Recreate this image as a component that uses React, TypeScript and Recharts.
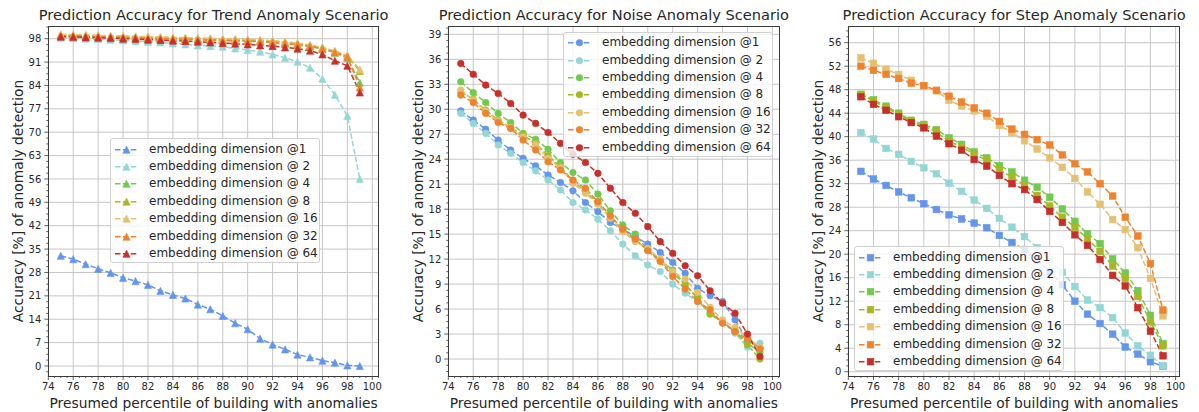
import { LineChart, Line, XAxis, YAxis, CartesianGrid, Legend } from 'recharts'

// x positions (presumed percentile)
const percentiles = [75, 76, 77, 78, 79, 80, 81, 82, 83, 84, 85, 86, 87, 88, 89, 90, 91, 92, 93, 94, 95, 96, 97, 98, 99]

const seriesKeys = ['d1', 'd2', 'd4', 'd8', 'd16', 'd32', 'd64']
const seriesNames = [
  'embedding dimension @1',
  'embedding dimension @ 2',
  'embedding dimension @ 4',
  'embedding dimension @ 8',
  'embedding dimension @ 16',
  'embedding dimension @ 32',
  'embedding dimension @ 64',
]
const seriesColors = ['#6495ed', '#93d6d6', '#71c94f', '#a8b824', '#e6c072', '#f0822e', '#c7302a']

// Trend anomaly scenario
const trend1 = [33.0, 32.0, 30.5, 29.1, 27.9, 26.4, 25.4, 24.3, 22.5, 21.3, 20.2, 18.4, 17.0, 15.0, 12.8, 11.0, 8.2, 6.4, 5.0, 3.4, 2.6, 1.6, 1.0, 0.2, 0.0]
const trend2 = [98.3, 98.2, 98.0, 97.9, 97.7, 97.5, 97.3, 97.1, 96.9, 96.6, 96.3, 96.0, 95.8, 95.6, 95.1, 94.6, 94.1, 93.3, 92.3, 91.1, 89.3, 86.0, 81.2, 74.9, 56.0]
const trend4 = [98.9, 98.8, 98.7, 98.6, 98.5, 98.4, 98.3, 98.2, 98.1, 98.0, 97.9, 97.8, 97.7, 97.6, 97.5, 97.4, 97.2, 96.9, 96.6, 96.1, 95.6, 94.9, 93.8, 92.2, 84.8]
const trend8 = [99.2, 99.1, 99.0, 98.9, 98.8, 98.7, 98.6, 98.5, 98.4, 98.3, 98.2, 98.1, 98.0, 97.9, 97.8, 97.7, 97.5, 97.3, 97.0, 96.6, 96.0, 95.3, 94.2, 92.8, 88.3]
const trend16 = [99.3, 99.2, 99.1, 99.0, 98.9, 98.8, 98.7, 98.6, 98.5, 98.4, 98.3, 98.2, 98.1, 98.0, 97.9, 97.8, 97.6, 97.4, 97.1, 96.7, 96.1, 95.4, 94.3, 93.0, 88.8]
const trend32 = [98.9, 98.8, 98.7, 98.6, 98.5, 98.4, 98.3, 98.1, 98.0, 97.9, 97.8, 97.7, 97.5, 97.4, 97.3, 97.3, 97.1, 96.9, 96.6, 96.2, 95.8, 95.0, 93.9, 92.6, 83.4]
const trend64 = [98.6, 98.5, 98.4, 98.3, 98.2, 98.0, 97.9, 97.7, 97.6, 97.4, 97.3, 97.1, 96.9, 96.7, 96.5, 96.3, 96.0, 95.8, 95.4, 95.0, 94.4, 93.3, 91.4, 89.9, 81.9]

// Noise anomaly scenario
const noise1 = [29.8, 28.7, 27.6, 26.3, 25.1, 24.1, 23.2, 22.1, 21.2, 20.2, 18.8, 17.7, 16.4, 15.6, 14.7, 13.8, 12.8, 11.6, 10.3, 8.5, 7.6, 6.9, 4.7, 2.2, 1.3]
const noise2 = [29.5, 28.3, 27.1, 25.7, 24.7, 23.6, 22.6, 21.5, 20.3, 18.8, 17.9, 16.8, 15.4, 13.8, 12.4, 11.3, 10.5, 9.0, 7.9, 6.9, 5.6, 4.5, 3.1, 1.4, 1.9]
const noise4 = [33.3, 32.0, 30.8, 29.5, 28.4, 27.1, 26.4, 25.2, 23.6, 22.4, 21.5, 19.8, 17.8, 16.1, 15.0, 13.1, 11.9, 10.7, 8.9, 7.4, 5.4, 4.4, 3.4, 1.9, 0.8]
const noise8 = [32.1, 31.2, 29.9, 28.7, 27.8, 26.9, 25.9, 24.4, 23.1, 21.4, 20.1, 18.8, 17.0, 15.4, 14.2, 13.2, 11.8, 10.3, 9.0, 7.2, 5.4, 4.5, 3.3, 1.7, 0.0]
const noise16 = [32.3, 31.1, 29.8, 28.6, 27.8, 26.7, 25.8, 24.1, 23.0, 21.1, 19.9, 18.6, 16.9, 15.3, 14.1, 13.3, 12.0, 10.5, 9.6, 8.0, 6.2, 4.7, 3.8, 2.6, 1.4]
const noise32 = [31.7, 30.8, 29.5, 28.4, 27.7, 26.3, 25.1, 23.7, 22.7, 21.5, 20.5, 18.9, 17.2, 15.6, 14.4, 13.0, 11.7, 9.9, 8.4, 6.9, 5.9, 4.3, 3.3, 2.4, 1.2]
const noise64 = [35.5, 34.2, 32.9, 31.9, 30.7, 29.3, 28.3, 27.2, 25.9, 24.6, 23.6, 22.3, 20.5, 18.8, 17.5, 15.9, 14.1, 12.7, 11.2, 10.0, 8.2, 6.7, 5.5, 3.0, 0.3]

// Step anomaly scenario
const step1 = [34.1, 32.8, 31.7, 30.6, 29.6, 28.6, 27.6, 26.7, 26.0, 25.3, 24.5, 23.2, 22.0, 20.8, 19.0, 17.0, 14.8, 12.0, 9.8, 8.2, 6.4, 4.2, 3.0, 1.7, 0.9]
const step2 = [40.7, 39.6, 38.0, 37.0, 35.8, 34.7, 33.7, 32.1, 30.7, 29.2, 27.8, 26.1, 24.6, 23.0, 21.1, 19.0, 16.9, 14.5, 12.2, 10.9, 9.2, 6.6, 4.4, 2.8, 1.0]
const step4 = [47.2, 46.3, 45.2, 44.0, 42.8, 42.1, 41.2, 39.8, 38.7, 37.4, 36.4, 35.1, 34.0, 32.6, 31.4, 29.7, 27.7, 25.6, 23.5, 21.8, 19.2, 16.8, 13.8, 9.6, 4.8]
const step8 = [47.2, 46.1, 44.9, 43.8, 42.6, 41.8, 40.8, 39.2, 38.3, 37.0, 36.0, 34.4, 33.1, 31.8, 30.0, 28.2, 26.3, 24.6, 22.6, 20.5, 18.0, 15.9, 12.8, 8.5, 4.4]
const step16 = [53.4, 52.5, 51.5, 50.6, 49.6, 48.7, 47.8, 46.2, 45.2, 44.4, 43.5, 41.9, 40.7, 39.3, 37.9, 36.4, 34.8, 32.9, 30.6, 28.5, 25.9, 24.2, 21.1, 15.9, 9.5]
const step32 = [52.0, 51.3, 50.6, 49.9, 49.1, 48.7, 47.9, 46.9, 45.9, 44.9, 44.0, 42.6, 41.3, 40.4, 39.5, 38.6, 36.9, 35.4, 34.0, 32.0, 29.9, 26.3, 23.1, 18.4, 10.5]
const step64 = [46.8, 45.5, 44.5, 43.4, 42.4, 41.5, 40.1, 38.8, 37.7, 36.1, 35.0, 33.4, 32.0, 31.0, 29.3, 27.3, 25.4, 23.3, 21.5, 19.1, 16.4, 14.6, 10.9, 6.9, 2.7]

// tick labels
const xMajorTicks = [74, 76, 78, 80, 82, 84, 86, 88, 90, 92, 94, 96, 98, 100]
const trendYTicks = [0, 7, 14, 21, 28, 35, 42, 49, 56, 63, 70, 77, 84, 91, 98]
const noiseYTicks = [0, 3, 6, 9, 12, 15, 18, 21, 24, 27, 30, 33, 36, 39]
const stepYTicks = [0, 4, 8, 12, 16, 20, 24, 28, 32, 36, 40, 44, 48, 52, 56]

const FONT = '"DejaVu Sans", sans-serif'
const INK = '#262626'
const SPINE = '#3a3a3a'

// minor ticks between the majors (AutoMinorLocator style)
function minorsFor(majors: number[], lo: number, hi: number) {
  const step = (majors[1] - majors[0]) / 4
  const out: number[] = []
  for (let v = majors[0] - 4 * step; v <= hi + 1e-9; v += step) {
    const r = Math.round(v * 1000) / 1000
    if (r >= lo && !majors.includes(r)) out.push(r)
  }
  return out
}

function buildRows(cols: number[][]) {
  return percentiles.map((p, i) => {
    const row: Record<string, number> = { x: p }
    seriesKeys.forEach((k, j) => {
      row[k] = cols[j][i]
    })
    return row
  })
}

type Shape = 'triangle' | 'circle' | 'square'

function MarkerGlyph({ shape, cx, cy, color }: { shape: Shape; cx: number; cy: number; color: string }) {
  if (shape === 'triangle') {
    const h = 3.6
    return <polygon points={`${cx},${cy - h} ${cx - h},${cy + h} ${cx + h},${cy + h}`} fill={color} stroke={color} strokeWidth={0.6} />
  }
  if (shape === 'square') {
    const h = 3.3
    return <rect x={cx - h} y={cy - h} width={2 * h} height={2 * h} fill={color} stroke={color} strokeWidth={0.6} />
  }
  return <circle cx={cx} cy={cy} r={3.3} fill={color} stroke={color} strokeWidth={0.6} />
}

function dotRenderer(shape: Shape, color: string) {
  return (p: any) => {
    if (p.cx == null || p.cy == null) return <g key={p.index} />
    return (
      <g key={p.index}>
        <MarkerGlyph shape={shape} cx={p.cx} cy={p.cy} color={color} />
      </g>
    )
  }
}

function xTick(majors: number[]) {
  return (p: any) => {
    const v = p.payload.value
    const major = majors.includes(v)
    return (
      <g key={`xt-${v}`}>
        <line x1={p.x} x2={p.x} y1={p.y} y2={p.y + (major ? 4 : 2)} stroke={SPINE} strokeWidth={0.8} />
        {major && (
          <text x={p.x} y={p.y + 14.3} textAnchor="middle" fontSize={10} fontFamily={FONT} fill={INK}>
            {v}
          </text>
        )}
      </g>
    )
  }
}

function yTick(majors: number[]) {
  return (p: any) => {
    const v = p.payload.value
    const major = majors.includes(v)
    return (
      <g key={`yt-${v}`}>
        <line x1={p.x - (major ? 4 : 2)} x2={p.x} y1={p.y} y2={p.y} stroke={SPINE} strokeWidth={0.8} />
        {major && (
          <text x={p.x - 7} y={p.y + 3.6} textAnchor="end" fontSize={10} fontFamily={FONT} fill={INK}>
            {v}
          </text>
        )}
      </g>
    )
  }
}

function LegendBox({ shape }: { shape: Shape }) {
  return (
    <div
      style={{
        width: 210,
        height: 125,
        boxSizing: 'border-box',
        border: '1px solid #d0d0d0',
        borderRadius: 3,
        background: 'rgba(255,255,255,0.8)',
        position: 'relative',
        fontFamily: FONT,
      }}
    >
      {seriesNames.map((name, i) => (
        <div
          key={name}
          style={{ position: 'absolute', left: 0, top: 1.6 + i * 17.4, height: 17.4, display: 'flex', alignItems: 'center' }}
        >
          <svg width={38} height={17.4} style={{ flex: 'none' }}>
            <line x1={4} x2={27} y1={8.7} y2={8.7} stroke={seriesColors[i]} strokeWidth={1.5} strokeDasharray="5.5 2.4" />
            <MarkerGlyph shape={shape} cx={15.5} cy={8.7} color={seriesColors[i]} />
          </svg>
          <span style={{ fontSize: 12, lineHeight: '17.4px', color: INK, whiteSpace: 'nowrap' }}>{name}</span>
        </div>
      ))}
    </div>
  )
}

type PanelProps = {
  title: string
  rows: Record<string, number>[]
  shape: Shape
  yTicks: number[]
  yDomain: [number, number]
  xDomain: [number, number]
  left: number
  width: number
  plotRight: number
  legendLeft: number
  legendTop: number
}

const PLOT_LEFT = 48.3
const PLOT_TOP = 26
const PLOT_BOTTOM = 376
const HEIGHT = 412
const X_AXIS_H = 30

function Panel(props: PanelProps) {
  const { title, rows, shape, yTicks, yDomain, xDomain, left, width, plotRight, legendLeft, legendTop } = props
  const xAll = [...xMajorTicks, ...minorsFor(xMajorTicks, xDomain[0], xDomain[1])]
  const yAll = [...yTicks, ...minorsFor(yTicks, yDomain[0], yDomain[1])]
  const plotW = plotRight - PLOT_LEFT
  const plotH = PLOT_BOTTOM - PLOT_TOP
  const centerX = PLOT_LEFT + plotW / 2
  return (
    <div style={{ position: 'absolute', left, top: 0, width, height: HEIGHT }}>
      <LineChart
        width={width}
        height={HEIGHT}
        data={rows}
        margin={{ top: PLOT_TOP, right: width - plotRight, bottom: HEIGHT - PLOT_BOTTOM - X_AXIS_H, left: 0 }}
      >
        <CartesianGrid stroke="#c6c6c6" strokeWidth={1} horizontalValues={yTicks} verticalValues={xMajorTicks} />
        <XAxis
          dataKey="x"
          type="number"
          domain={xDomain}
          allowDataOverflow
          ticks={xAll}
          interval={0}
          tickSize={0}
          tickMargin={0}
          tickLine={false}
          axisLine={false}
          height={X_AXIS_H}
          tick={xTick(xMajorTicks)}
        />
        <YAxis
          type="number"
          domain={yDomain}
          allowDataOverflow
          ticks={yAll}
          interval={0}
          tickSize={0}
          tickMargin={0}
          tickLine={false}
          axisLine={false}
          width={PLOT_LEFT}
          tick={yTick(yTicks)}
        />
        {seriesKeys.map((k, i) => (
          <Line
            key={k}
            dataKey={k}
            name={seriesNames[i]}
            stroke={seriesColors[i]}
            strokeWidth={1.5}
            strokeDasharray="5.5 2.4"
            dot={dotRenderer(shape, seriesColors[i])}
            isAnimationActive={false}
          />
        ))}
        <Legend
          layout="vertical"
          align="center"
          verticalAlign="middle"
          wrapperStyle={{ left: legendLeft, top: legendTop, width: 210, height: 125 }}
          content={() => <LegendBox shape={shape} />}
        />
      </LineChart>
      {/* frame */}
      <div
        style={{
          position: 'absolute',
          left: PLOT_LEFT - 0.5,
          top: PLOT_TOP - 0.5,
          width: plotW + 1,
          height: plotH + 1,
          boxSizing: 'border-box',
          border: `1px solid ${SPINE}`,
          pointerEvents: 'none',
        }}
      />
      <div
        style={{
          position: 'absolute',
          left: centerX - 250,
          width: 500,
          top: 6,
          textAlign: 'center',
          fontSize: 14.6,
          lineHeight: '18px',
          color: INK,
          whiteSpace: 'nowrap',
        }}
      >
        {title}
      </div>
      <div
        style={{
          position: 'absolute',
          left: centerX - 250,
          width: 500,
          top: 393.5,
          textAlign: 'center',
          fontSize: 13.8,
          lineHeight: '18px',
          color: INK,
          whiteSpace: 'nowrap',
        }}
      >
        Presumed percentile of building with anomalies
      </div>
      <div
        style={{
          position: 'absolute',
          left: 18,
          top: (PLOT_TOP + PLOT_BOTTOM) / 2,
          transform: 'translate(-50%, -50%) rotate(-90deg)',
          fontSize: 13.8,
          lineHeight: '18px',
          color: INK,
          whiteSpace: 'nowrap',
        }}
      >
        Accuracy [%] of anomaly detection
      </div>
    </div>
  )
}

export default function App() {
  const trendRows = buildRows([trend1, trend2, trend4, trend8, trend16, trend32, trend64])
  const noiseRows = buildRows([noise1, noise2, noise4, noise8, noise16, noise32, noise64])
  const stepRows = buildRows([step1, step2, step4, step8, step16, step32, step64])

  return (
    <div
      style={{
        position: 'absolute',
        left: 0,
        top: 0,
        width: 1199,
        height: 412,
        background: '#ffffff',
        fontFamily: FONT,
        overflow: 'hidden',
      }}
    >
      <Panel
        title="Prediction Accuracy for Trend Anomaly Scenario"
        rows={trendRows}
        shape="triangle"
        yTicks={trendYTicks}
        yDomain={[-3, 101.8]}
        xDomain={[74, 100.54]}
        left={0}
        width={400}
        plotRight={379}
        legendLeft={110}
        legendTop={138}
      />
      <Panel
        title="Prediction Accuracy for Noise Anomaly Scenario"
        rows={noiseRows}
        shape="circle"
        yTicks={noiseYTicks}
        yDomain={[-2.04, 40]}
        xDomain={[74, 100.55]}
        left={400}
        width={400}
        plotRight={379.3}
        legendLeft={163}
        legendTop={31.7}
      />
      <Panel
        title="Prediction Accuracy for Step Anomaly Scenario"
        rows={stepRows}
        shape="square"
        yTicks={stepYTicks}
        yDomain={[-0.73, 58.84]}
        xDomain={[74, 100.35]}
        left={800}
        width={399}
        plotRight={380}
        legendLeft={54}
        legendTop={246}
      />
    </div>
  )
}
